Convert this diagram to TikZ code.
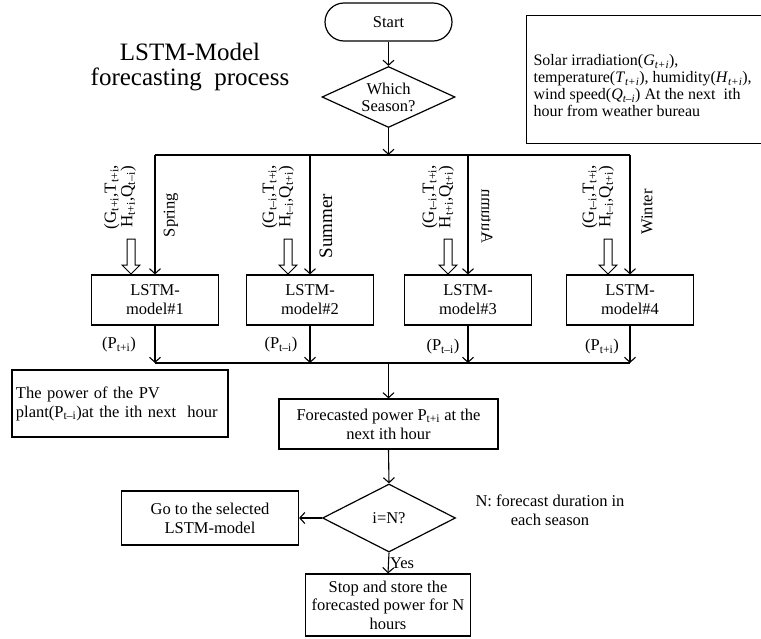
\documentclass[tikz,border=0pt]{standalone}
\usepackage{fontspec}
\setmainfont{Liberation Serif}
\usepackage{graphicx}
\usetikzlibrary{shapes.geometric,shapes.arrows,arrows.meta,calc}

\begin{document}
\begin{tikzpicture}[x=1pt, y=-1pt, line width=1.1pt,
		>={Straight Barb[length=5pt,width=11pt]},
		every node/.style={font=\fontsize{16.5}{19}\selectfont},
		box/.style={draw, line width=1.2pt, align=center, inner sep=2pt},
		lstmbox/.style={box, minimum width=127pt, minimum height=50pt},
		fatarrow/.style={draw, line width=1pt, single arrow, rotate=-90, minimum height=35pt, inner sep=3.5pt, single arrow head extend=5pt, single arrow tip angle=90},
		inlabel/.style={rotate=90, align=center, inner sep=0pt, font=\fontsize{17}{14}\selectfont},
		seasonlabel/.style={rotate=90, inner sep=0pt}]
		
		\useasboundingbox (0,0) rectangle (761,638);
		
		% title and weather info
		\node [align=center, font=\fontsize{25}{25}\selectfont] (title) at (190,67) {LSTM-Model\\forecasting\ \ process};
		\node [box, anchor=north west, minimum width=260pt, minimum height=128pt] (info) at (526,15) {};
		\node [anchor=west, align=left, inner sep=0pt, font=\fontsize{16}{17}\selectfont] (infotext) at (533,86) {Solar irradiation(\textit{G}\textsubscript{\textit{t+i}}),\\temperature(\textit{T}\textsubscript{\textit{t+i}}), humidity(\textit{H}\textsubscript{\textit{t+i}}),\\wind speed(\textit{Q}\textsubscript{\textit{t\textendash i}}) At the next\ \ ith\\hour from weather bureau};
		
		% start and season choice
		\node [box, rounded corners=19pt, minimum width=127pt, minimum height=38pt] (start) at (388.5,22) {Start};
		\node [box, diamond, shape aspect=2.2, inner sep=0pt, minimum width=133pt, minimum height=61pt, font=\fontsize{16.5}{17}\selectfont] (season) at (388.5,97) {Which\\Season?};
		\draw [->] (start) -- (season);
		
		\coordinate (bar1) at (155,155);
		\coordinate (bar4) at (630,155);
		\draw [->] (season.south) -- (season.south |- bar1);
		\draw (bar1) -- (bar4);
		
		% the four LSTM models
		\node [lstmbox] (m1) at (155,300) {LSTM-\\model\#1};
		\node [lstmbox] (m2) at (310,300) {LSTM-\\model\#2};
		\node [lstmbox] (m3) at (468,300) {LSTM-\\model\#3};
		\node [lstmbox] (m4) at (630,300) {LSTM-\\model\#4};
		
		\draw [->] (m1.north |- bar1) -- (m1.north);
		\draw [->] (m2.north |- bar1) -- (m2.north);
		\draw [->] (m3.north |- bar1) -- (m3.north);
		\draw [->] (m4.north |- bar1) -- (m4.north);
		
		\node [seasonlabel] (spring) at (171,215) {Spring};
		\node [seasonlabel, font=\fontsize{19}{19}\selectfont] (summer) at (326,226) {Summer};
		\node [seasonlabel] (autumn) at (487,216) {\scalebox{1}[-1]{Autumn}};
		\node [seasonlabel] (winter) at (647,212) {Winter};
		
		% weather inputs
		\node [fatarrow] (in1) at (131,254.5) {};
		\node [fatarrow] (in2) at (288,254.5) {};
		\node [fatarrow] (in3) at (448,254.5) {};
		\node [fatarrow] (in4) at (608,254.5) {};
		
		\node [inlabel] (x1) at (120,197) {(G\textsubscript{t+i},T\textsubscript{t+i},\\H\textsubscript{t+i},Q\textsubscript{t\textendash i})};
		\node [inlabel] (x2) at (278,197) {(G\textsubscript{t\textendash i},T\textsubscript{t+i},\\H\textsubscript{t\textendash i},Q\textsubscript{t+i})};
		\node [inlabel] (x3) at (438,197) {(G\textsubscript{t\textendash i},T\textsubscript{t+i},\\H\textsubscript{t+i},Q\textsubscript{t+i})};
		\node [inlabel] (x4) at (598,197) {(G\textsubscript{t\textendash i},T\textsubscript{t+i},\\H\textsubscript{t\textendash i},Q\textsubscript{t+i})};
		
		% outputs
		\coordinate (low1) at (155,363);
		\draw [->] (m1.south) -- (m1.south |- low1);
		\draw [->] (m2.south) -- (m2.south |- low1);
		\draw [->] (m3.south) -- (m3.south |- low1);
		\draw [->] (m4.south) -- (m4.south |- low1);
		\draw (m1.south |- low1) -- (m4.south |- low1);
		
		\node (p1) at (119,345) {(P\textsubscript{t+i})};
		\node (p2) at (281,345) {(P\textsubscript{t\textendash i})};
		\node (p3) at (443,347) {(P\textsubscript{t\textendash i})};
		\node (p4) at (602,347) {(P\textsubscript{t+i})};
		
		\node [box, align=left, text width=208pt, minimum height=67pt, inner xsep=4pt, inner ysep=6pt] (pv) at (120,403.5) {The power of the PV\\plant(P\textsubscript{t\textendash i})at the ith next\ \ hour};
		\node [box, minimum width=219pt, minimum height=50pt] (fc) at (388.5,424) {Forecasted power P\textsubscript{t+i} at the\\next ith hour};
		\draw [->] (fc.north |- low1) -- (fc.north);
		
		% loop over the hours
		\node [box, diamond, shape aspect=2, inner sep=0pt, minimum width=133pt, minimum height=68pt] (check) at (389,518) {i=N?};
		\node [box, minimum width=177pt, minimum height=54pt] (goto) at (210,518) {Go to the selected\\LSTM-model};
		\node [box, minimum width=165pt, minimum height=62pt, font=\fontsize{16.5}{18.5}\selectfont] (stop) at (388,605) {Stop and store the\\forecasted power for N\\hours};
		\node [align=center] (note) at (550,510) {N: forecast duration in\\each season};
		
		\draw [->] (fc.south) -- (check.north);
		\draw [->] (check.west) -- (goto.east);
		\draw [->] (check.south) -- (stop.north) node [midway, right, inner sep=1pt] (yes) {Yes};
		
\end{tikzpicture}
\end{document}
